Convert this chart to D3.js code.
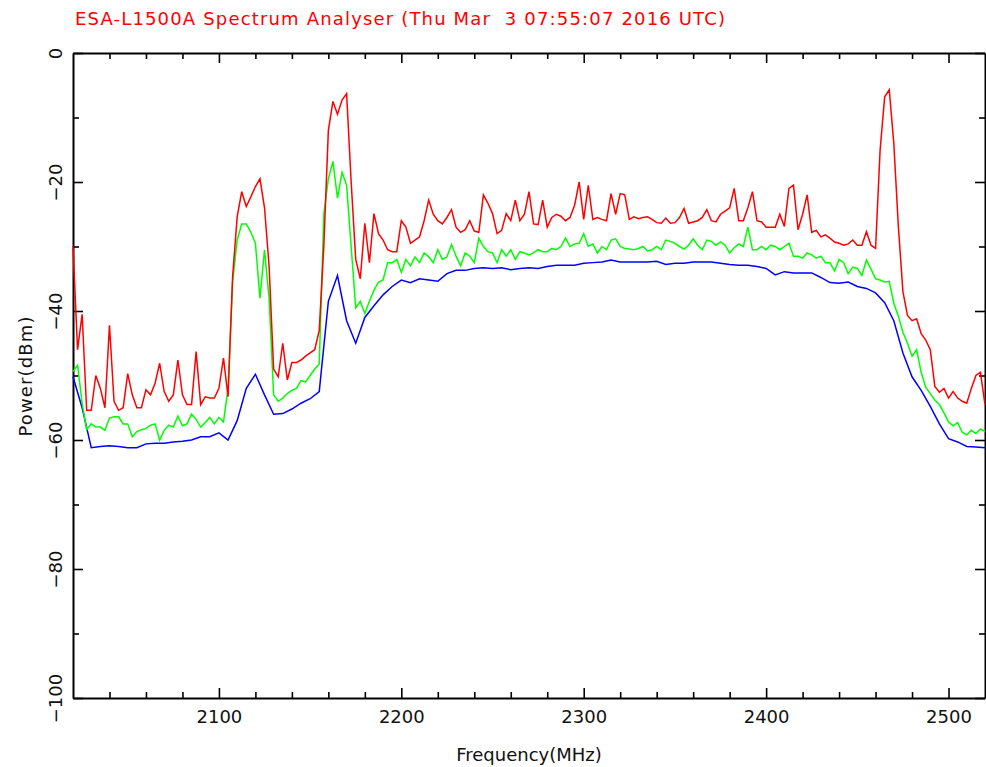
<!DOCTYPE html>
<html>
<head>
<meta charset="utf-8">
<script src="https://cdn.jsdelivr.net/npm/d3@7"></script>
<style>
  body { margin: 0; background: #fff; }
  svg text { font-family: "DejaVu Sans", sans-serif; }
</style>
</head>
<body>
<div id="chart"></div>
<script>
// sweep goes from 2020 to 2520 MHz, values in dBm
var sweepStart = 2020;
var redStep = 2.5, greenStep = 2.5, blueStep = 5;

var freqTicks = [2100, 2200, 2300, 2400, 2500];
var powerTicks = [0, -20, -40, -60, -80, -100];

// max hold trace
var redTrace = [
  -30, -46, -40.5, -55.4, -55.4, -50, -52, -55, -42.2, -54,
  -55.4, -55, -49.7, -53, -55, -55, -52.2, -53, -51.2, -48.1,
  -52.5, -54, -53, -47.6, -53, -54.5, -54.5, -46.3, -54.5, -53.3,
  -53.5, -53.5, -52, -47.3, -53.3, -34.7, -25.4, -21.5, -23.8, -22.3,
  -20.7, -19.5, -24, -33, -49, -50.2, -45, -50.7, -48, -48,
  -47.6, -47, -46.5, -46, -43, -30, -12, -7.5, -9.5, -7.3,
  -6.3, -20, -32, -35, -26.4, -32.5, -24.9, -28, -29, -30.5,
  -30.8, -30.8, -26, -27, -29.5, -29, -28.5, -26, -22.8, -25,
  -26, -26.5, -25.5, -24.3, -27, -27.8, -27.4, -26, -27.6, -27.8,
  -22, -23.3, -24.9, -28, -27.5, -24.9, -26, -22.8, -26, -25,
  -21.5, -26.5, -26.6, -22.8, -27, -25.5, -25, -25.3, -26, -25.5,
  -23.6, -20, -25.8, -20.5, -25.8, -25.5, -25.8, -26, -21.8, -25,
  -21.8, -22, -25.8, -25.4, -25.7, -25.5, -25.4, -25.8, -26.3, -26.4,
  -25.6, -26.4, -26.3, -25.5, -24.1, -26.4, -26.2, -26, -25.5, -24.3,
  -26, -26.2, -25, -24.5, -24, -21, -26, -26, -24, -21.5,
  -26, -26.2, -27, -27, -27, -25, -26.9, -21, -20.5, -27.4,
  -25, -22, -27.8, -27.5, -28.5, -28.2, -28.7, -29.3, -29.5, -29.8,
  -29.6, -29, -29.8, -29.8, -27.7, -29.8, -30.3, -15, -6.8, -5.7,
  -14, -26.9, -37, -40.7, -41.5, -41.2, -43.5, -44.5, -46, -51.7,
  -52.6, -52, -53.5, -52.5, -53.5, -54, -54.3, -52, -50, -49.5,
  -54.5
];

// average trace
var greenTrace = [
  -49.4, -48.4, -54.3, -58.4, -57.5, -58, -58, -58.5, -56.6, -56.4,
  -56.4, -57.5, -57.5, -59.5, -58.7, -58.4, -58.2, -57.7, -57.5, -60,
  -58.5, -57.7, -58, -56.3, -57.8, -57.5, -56, -56.8, -58, -57.3,
  -56.5, -57.5, -56.5, -57.2, -52, -35.5, -29, -26.5, -26.5, -27.8,
  -29.5, -38, -30.5, -38, -53, -54, -53.5, -52.8, -52.3, -52,
  -50.8, -51, -50, -49, -48.2, -25, -19.5, -16.8, -22.5, -18.5,
  -20.5, -30, -39.5, -38.5, -40.4, -38.5, -36.8, -35.5, -35.2, -32.5,
  -32.5, -32, -34, -32, -33, -31.6, -32.5, -31, -31.6, -32.5,
  -30.5, -32, -31.6, -29.7, -31.5, -33, -31, -31.5, -32.5, -28.7,
  -30, -30.8, -31, -32.5, -30.5, -31.5, -30.5, -32, -30.8, -31,
  -31.3, -31, -30.5, -30.8, -30.8, -30.3, -30.5, -30, -28.7, -30,
  -29.6, -29.5, -28, -30, -29.6, -31, -30, -30.5, -29, -28.8,
  -30, -30.3, -30.4, -30.5, -30.3, -30, -30.7, -30.5, -30, -30.5,
  -29, -29.2, -29.5, -30, -30.4, -29.8, -28.8, -29.8, -30.5, -29,
  -29.2, -29.8, -29.3, -29.8, -31, -30.2, -29.6, -30, -27, -30.5,
  -30.5, -30, -30.5, -29.8, -30, -30.5, -30, -29.5, -31.5, -31.5,
  -31.8, -31, -31.3, -31.8, -31.5, -32.5, -32.5, -33.8, -32, -32.5,
  -34.2, -33.2, -33.4, -34.5, -32.1, -33.5, -35, -35.2, -35.5, -35.4,
  -38.8, -40.8, -43.3, -45, -47, -46, -49.5, -51.8, -52.8, -53.8,
  -54.5, -55.8, -57.2, -57.8, -57.3, -58.8, -59.2, -58.5, -59, -58.3,
  -58.7
];

// min hold trace
var blueTrace = [
  -50.2, -55, -61.2, -61, -60.9, -61, -61.2, -61.2, -60.6, -60.5,
  -60.5, -60.3, -60.2, -60, -59.5, -59.5, -58.9, -60, -57, -52,
  -49.8, -53, -56, -55.9, -55.2, -54.3, -53.6, -52.5, -38.5, -34.5,
  -41.5, -45, -41, -39.2, -37.5, -36.2, -35.2, -35.6, -35, -35.2,
  -35.4, -34.2, -33.7, -33.7, -33.4, -33.3, -33.4, -33.3, -33.6, -33.4,
  -33.3, -33.4, -33.1, -32.9, -32.9, -32.9, -32.6, -32.5, -32.4, -32.1,
  -32.4, -32.4, -32.4, -32.4, -32.3, -32.8, -32.6, -32.6, -32.4, -32.4,
  -32.4, -32.6, -32.8, -32.9, -32.9, -33.1, -33.4, -34.4, -33.9, -34.1,
  -34.1, -34.1, -34.8, -35.6, -35.7, -35.5, -36.2, -36.5, -37.2, -38.7,
  -41.5, -46.5, -50.2, -52.3, -54.8, -57.5, -59.8, -60.3, -61, -61.1,
  -61.2
];

var width = 986,
    height = 767;
var plotLeft = 73, plotRight = 985, plotTop = 53, plotBottom = 698;

var svg = d3.select("#chart")
    .append("svg").attr("width", width)
    .attr("height", height);

var x = d3.scaleLinear().domain([2020, 2520]).range([plotLeft, plotRight]);
var y = d3.scaleLinear().domain([-100, 0]).range([plotBottom, plotTop]);

var minorX = d3.range(2040, 2520, 20).filter(function(f) { return f % 100 != 0; });
var minorY = d3.range(-90, 0, 10).filter(function(p) { return p % 20 != 0; });

function styleAxis(g, withDomain) {
  g.select(".domain").attr("stroke", "#000").attr("stroke-width", 2);
  if (!withDomain) g.select(".domain").remove();
  g.selectAll(".tick line").attr("stroke", "#000").attr("stroke-width", 1.6);
  g.selectAll("text").attr("fill", "#111").style("font-size", "18px");
}

// bottom
var gb = svg.append("g").attr("transform", "translate(0," + plotBottom + ")")
  .call(d3.axisBottom(x).tickValues(freqTicks).tickSize(-10).tickSizeOuter(0).tickFormat(d3.format("d")));
styleAxis(gb, true);
gb.selectAll("text").attr("y", 25).attr("dy", null);
var gbm = svg.append("g").attr("transform", "translate(0," + plotBottom + ")")
  .call(d3.axisBottom(x).tickValues(minorX).tickSize(-6).tickFormat(""));
styleAxis(gbm, false);

// top
var gt = svg.append("g").attr("transform", "translate(0," + plotTop + ")")
  .call(d3.axisTop(x).tickValues(freqTicks).tickSize(-10).tickSizeOuter(0).tickFormat(""));
styleAxis(gt, true);
var gtm = svg.append("g").attr("transform", "translate(0," + plotTop + ")")
  .call(d3.axisTop(x).tickValues(minorX).tickSize(-6).tickFormat(""));
styleAxis(gtm, false);

// left
var gl = svg.append("g").attr("transform", "translate(" + plotLeft + ",0)")
  .call(d3.axisLeft(y).tickValues(powerTicks).tickSize(-10).tickSizeOuter(0).tickFormat(d3.format("d")));
styleAxis(gl, true);
gl.selectAll("text")
  .attr("x", null).attr("dy", null)
  .attr("text-anchor", "middle")
  .attr("transform", "translate(-11,0) rotate(-90)");
var glm = svg.append("g").attr("transform", "translate(" + plotLeft + ",0)")
  .call(d3.axisLeft(y).tickValues(minorY).tickSize(-6).tickFormat(""));
styleAxis(glm, false);

// right
var gr = svg.append("g").attr("transform", "translate(" + plotRight + ",0)")
  .call(d3.axisRight(y).tickValues(powerTicks).tickSize(-10).tickSizeOuter(0).tickFormat(""));
styleAxis(gr, true);
var grm = svg.append("g").attr("transform", "translate(" + plotRight + ",0)")
  .call(d3.axisRight(y).tickValues(minorY).tickSize(-6).tickFormat(""));
styleAxis(grm, false);

// traces
var line = d3.line()
  .x(function(d) { return x(d.f); })
  .y(function(d) { return y(d.p); });

function points(values, step) {
  return values.map(function(p, i) { return {f: sweepStart + i * step, p: p}; });
}

var traces = [
  {values: blueTrace, step: blueStep, color: "#0000ff"},
  {values: greenTrace, step: greenStep, color: "#00ff00"},
  {values: redTrace, step: redStep, color: "#ff0000"}
];

svg.selectAll("path.trace")
  .data(traces)
  .enter()
  .append("path")
    .attr("class", "trace")
    .attr("d", function(d) { return line(points(d.values, d.step)); })
    .attr("fill", "none")
    .attr("stroke", function(d) { return d.color; })
    .attr("stroke-width", 1.5)
    .attr("stroke-linejoin", "miter");

// titles
svg.append("text")
  .attr("x", 75)
  .attr("y", 25)
  .attr("fill", "#ff0000")
  .attr("textLength", 650)
  .attr("lengthAdjust", "spacing")
  .style("font-size", "18px")
  .style("white-space", "pre")
  .text("ESA-L1500A Spectrum Analyser (Thu Mar  3 07:55:07 2016 UTC)");

svg.append("text")
  .attr("x", (plotLeft + plotRight) / 2)
  .attr("y", 761)
  .attr("text-anchor", "middle")
  .attr("fill", "#111")
  .style("font-size", "18px")
  .text("Frequency(MHz)");

svg.append("text")
  .attr("transform", "translate(32," + ((plotTop + plotBottom) / 2 + 1) + ") rotate(-90)")
  .attr("text-anchor", "middle")
  .attr("fill", "#111")
  .attr("textLength", 120)
  .attr("lengthAdjust", "spacing")
  .style("font-size", "18px")
  .text("Power(dBm)");
</script>
</body>
</html>
